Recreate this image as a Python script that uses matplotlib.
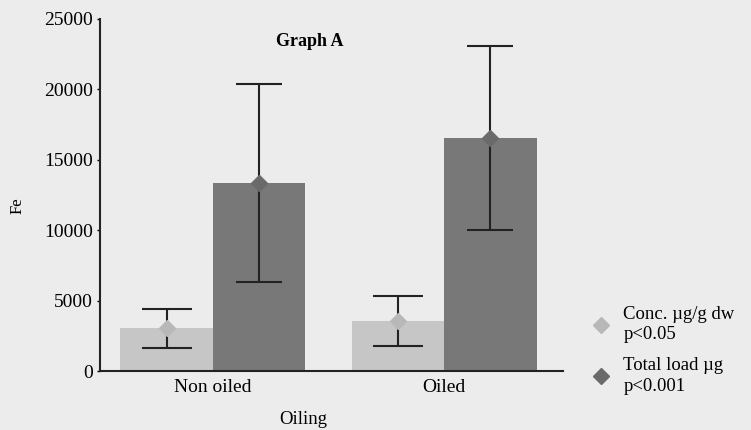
import matplotlib
matplotlib.use("Agg")
import matplotlib.pyplot as plt
import numpy as np
from matplotlib.lines import Line2D

categories = ["Non oiled", "Oiled"]
conc_values = [3050, 3550]
conc_err = [1380, 1780]
total_values = [13350, 16550]
total_err = [7000, 6500]
yticks = [0, 5000, 10000, 15000, 20000, 25000]
legend_labels = ["Conc. \u00b5g/g dw\np<0.05", "Total load \u00b5g\np<0.001"]

plt.rcParams['font.family'] = ['Liberation Serif', 'DejaVu Serif']
bg = '#ececec'
fig = plt.figure(figsize=(7.51, 4.30), dpi=100, facecolor=bg)
ax = fig.add_axes([0.133, 0.137, 0.617, 0.819])
ax.set_facecolor(bg)

x = np.arange(len(categories))
w = 0.4
c_conc = '#c6c6c6'
c_tot = '#787878'
ax.bar(x - w/2, conc_values, w, color=c_conc, zorder=2)
ax.bar(x + w/2, total_values, w, color=c_tot, zorder=2)
ax.errorbar(x - w/2, conc_values, yerr=conc_err, fmt='none', ecolor='#222222',
            elinewidth=1.5, capsize=18, capthick=1.5, zorder=3)
ax.errorbar(x + w/2, total_values, yerr=total_err, fmt='none', ecolor='#222222',
            elinewidth=1.5, capsize=16.5, capthick=1.5, zorder=3)
ax.plot(x - w/2, conc_values, 'D', color='#b8b8b8', markersize=8, zorder=4)
ax.plot(x + w/2, total_values, 'D', color='#6a6a6a', markersize=8, zorder=4)

ax.set_xlim(-0.489, 1.515)
ax.set_ylim(0, 25000)
ax.set_yticks(yticks)
ax.set_yticklabels([str(t) for t in yticks], fontsize=14)
ax.set_xticks(x)
ax.set_xticklabels(categories, fontsize=14)
ax.tick_params(axis='x', length=0, pad=6)
ax.tick_params(axis='y', length=2, width=1, pad=3)
for s in ['top', 'right']:
    ax.spines[s].set_visible(False)
for s in ['left', 'bottom']:
    ax.spines[s].set_linewidth(1.5)
    ax.spines[s].set_color('#222222')

ax.set_ylabel('Fe', fontsize=12, va='center')
ax.yaxis.set_label_coords(-0.178, 0.47)
ax.set_xlabel('Oiling', fontsize=13.5, va='center')
ax.xaxis.set_label_coords(0.438, -0.137)
ax.text(0.42, 23370, 'Graph A', fontsize=13, fontweight='bold', ha='center', va='center')

handles = [Line2D([], [], marker='D', linestyle='none', color='#b8b8b8', markersize=8),
           Line2D([], [], marker='D', linestyle='none', color='#6a6a6a', markersize=8)]
leg = fig.legend(handles, legend_labels, loc='center left', bbox_to_anchor=(0.775, 0.185),
                 frameon=False, fontsize=13.5, handletextpad=0.7, labelspacing=0.75,
                 handlelength=1.0, borderpad=0)
for t in leg.get_texts():
    t.set_linespacing(1.25)

fig.savefig('out.png', dpi=100, facecolor=bg)
